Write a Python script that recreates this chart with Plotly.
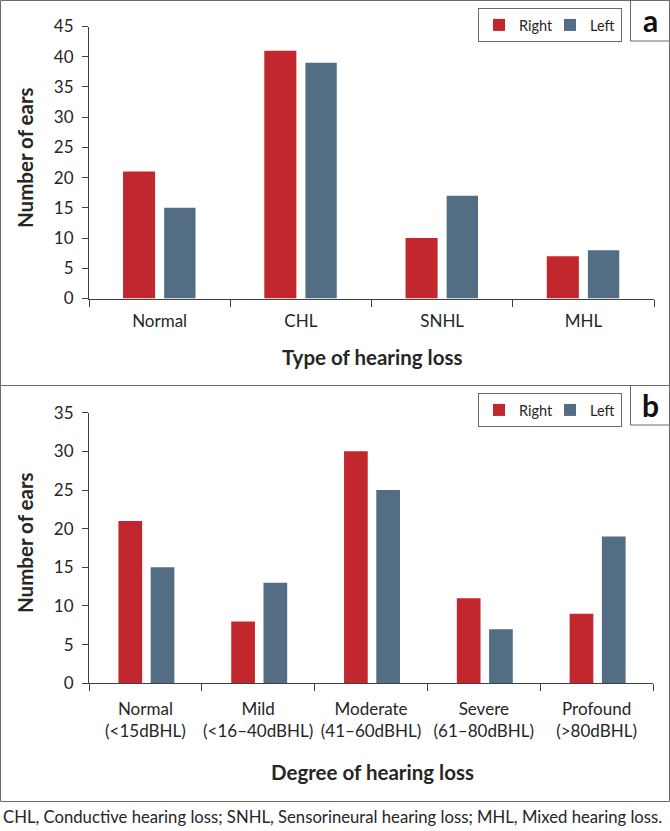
import plotly.graph_objects as go

W, H = 670, 831

# ---- data ----
type_categories = ["Normal", "CHL", "SNHL", "MHL"]
type_right = [21, 41, 10, 7]
type_left = [15, 39, 17, 8]

degree_categories = ["Normal", "Mild", "Moderate", "Severe", "Profound"]
degree_tick_labels = [
    "Normal<br>(&lt;15dBHL)",
    "Mild<br>(&lt;16–40dBHL)",
    "Moderate<br>(41–60dBHL)",
    "Severe<br>(61–80dBHL)",
    "Profound<br>(&gt;80dBHL)",
]
degree_right = [21, 8, 30, 11, 9]
degree_left = [15, 13, 25, 7, 19]

series_names = ["Right", "Left"]
RED = "#C1272D"
BLUE = "#526D84"
FONT = "Lato"
TXT = "#262626"
AX = "#404040"
BORDER = "#6b6b6b"


def px(x):
    return x / W


def py(y):
    return 1 - y / H


fig = go.Figure()

# panel a
fig.add_trace(go.Bar(x=type_categories, y=type_right, name=series_names[0],
                     marker=dict(color=RED, line=dict(width=0)),
                     width=0.227, offset=-0.259, xaxis="x", yaxis="y", legend="legend"))
fig.add_trace(go.Bar(x=type_categories, y=type_left, name=series_names[1],
                     marker=dict(color=BLUE, line=dict(width=0)),
                     width=0.222, offset=0.032, xaxis="x", yaxis="y", legend="legend"))
# panel b
fig.add_trace(go.Bar(x=degree_categories, y=degree_right, name=series_names[0],
                     marker=dict(color=RED, line=dict(width=0)),
                     width=0.21, offset=-0.239, xaxis="x2", yaxis="y2", legend="legend2"))
fig.add_trace(go.Bar(x=degree_categories, y=degree_left, name=series_names[1],
                     marker=dict(color=BLUE, line=dict(width=0)),
                     width=0.21, offset=0.047, xaxis="x2", yaxis="y2", legend="legend2"))

tickfont = dict(family=FONT, size=17, color=TXT)
titlefont = dict(family=FONT, size=20.5, color=TXT, weight="bold")

common_x = dict(type="category", showline=True, linecolor=AX, linewidth=1,
                ticks="outside", tickson="boundaries", ticklen=7, tickcolor=AX,
                tickfont=tickfont, showgrid=False, zeroline=False, fixedrange=True,
                automargin=False, tickangle=0)
common_y = dict(showline=True, linecolor=AX, linewidth=1, ticks="outside",
                ticklen=6, tickcolor=AX, tickfont=tickfont, showgrid=False,
                zeroline=False, dtick=5, fixedrange=True, automargin=False,
                ticklabelstandoff=5)

legend_common = dict(orientation="h", bgcolor="white", bordercolor=BORDER,
                     borderwidth=1, font=dict(family=FONT, size=14.5, color=TXT),
                     xanchor="left", yanchor="top", entrywidth=26,
                     entrywidthmode="pixels", traceorder="normal")

annotations = [
    dict(text="a", xref="paper", yref="paper", x=px(650), y=py(20),
         xanchor="center", yanchor="middle", showarrow=False,
         font=dict(family=FONT, size=30, color="#111", weight="bold")),
    dict(text="b", xref="paper", yref="paper", x=px(650), y=py(405),
         xanchor="center", yanchor="middle", showarrow=False,
         font=dict(family=FONT, size=30, color="#111", weight="bold")),
    dict(text="CHL, Conductive hearing loss; SNHL, Sensorineural hearing loss; MHL, Mixed hearing loss.",
         xref="paper", yref="paper", x=px(1), y=py(817),
         xanchor="left", yanchor="middle", showarrow=False,
         font=dict(family=FONT, size=16.7, color=TXT)),
    # axis titles
    dict(text="Type of hearing loss", xref="paper", yref="paper", x=px(372), y=py(357),
         xanchor="center", yanchor="middle", showarrow=False, font=titlefont),
    dict(text="Degree of hearing loss", xref="paper", yref="paper", x=px(372.5), y=py(772),
         xanchor="center", yanchor="middle", showarrow=False, font=titlefont),
    dict(text="Number of ears", xref="paper", yref="paper", x=px(25), y=py(158),
         xanchor="center", yanchor="middle", textangle=-90, showarrow=False, font=titlefont),
    dict(text="Number of ears", xref="paper", yref="paper", x=px(25), y=py(543),
         xanchor="center", yanchor="middle", textangle=-90, showarrow=False, font=titlefont),
]

fig.update_layout(
    width=W, height=H,
    autosize=False,
    margin=dict(l=0, r=0, t=0, b=0, pad=0, autoexpand=False),
    paper_bgcolor="white", plot_bgcolor="white",
    barmode="group",
    showlegend=True,
    xaxis=dict(common_x, domain=[px(89), px(654)], anchor="y", range=[-0.5, 3.5],
               ticklabelstandoff=7),
    yaxis=dict(common_y, domain=[py(298.5), py(26.5)], anchor="x", range=[0, 45]),
    xaxis2=dict(common_x, domain=[px(89), px(653)], anchor="y2",
                range=[-0.5, 4.5], tickvals=degree_categories, ticktext=degree_tick_labels,
                ticklabelstandoff=10),
    yaxis2=dict(common_y, domain=[py(683.3), py(412.7)], anchor="x2", range=[0, 35]),
    legend=dict(legend_common, x=px(478), y=py(8)),
    legend2=dict(legend_common, x=px(478), y=py(393)),
    shapes=[
        dict(type="rect", xref="paper", yref="paper", x0=px(0.5), x1=px(669.5),
             y0=py(385.5), y1=py(0.5), line=dict(color=BORDER, width=1)),
        dict(type="rect", xref="paper", yref="paper", x0=px(0.5), x1=px(669.5),
             y0=py(801.5), y1=py(385.5), line=dict(color=BORDER, width=1)),
        dict(type="rect", xref="paper", yref="paper", x0=px(630.5), x1=px(669.5),
             y0=py(41), y1=py(0.5), line=dict(color=BORDER, width=1)),
        dict(type="rect", xref="paper", yref="paper", x0=px(630.5), x1=px(669.5),
             y0=py(425), y1=py(385.5), line=dict(color=BORDER, width=1)),
    ],
    annotations=annotations,
)

fig.write_html(
    "out.html",
    config={"responsive": False, "displayModeBar": False},
    post_script="document.body.style.margin='0';document.body.style.overflow='hidden';",
)
